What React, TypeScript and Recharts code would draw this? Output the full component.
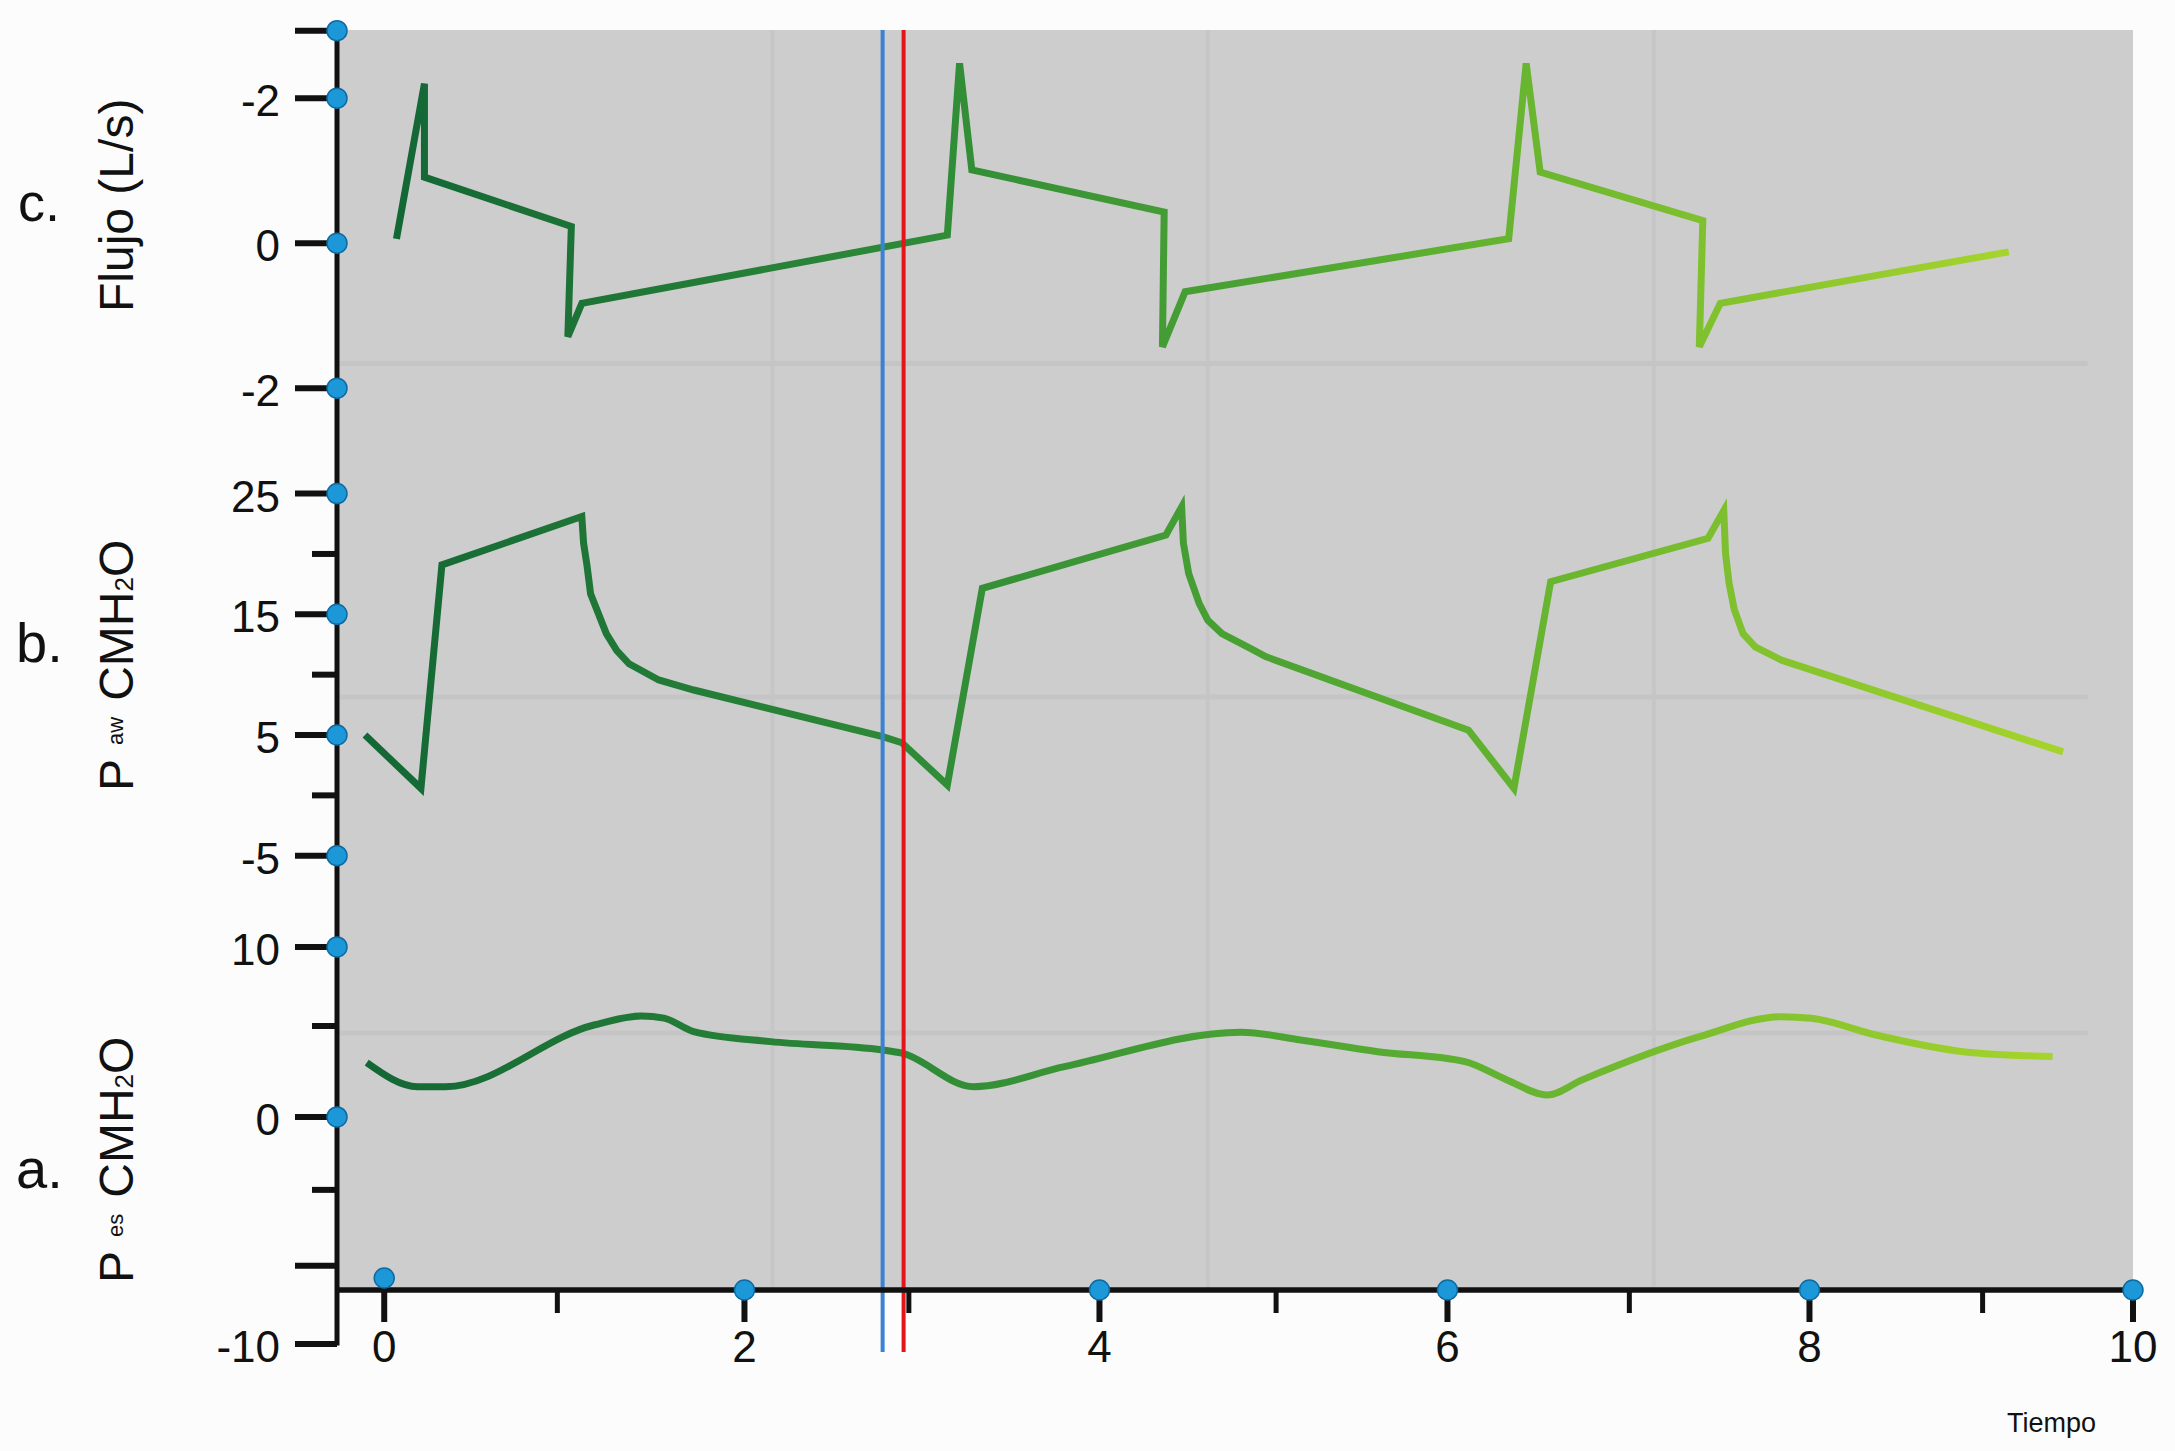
import React from 'react';
import { ComposedChart, Line, XAxis, YAxis, CartesianGrid, ReferenceLine } from 'recharts';

// Flujo (L/s)
const flujoT = [0.07, 0.23, 0.23, 1.07, 1.05, 1.13, 3.22, 3.29, 3.36, 4.46, 4.45, 4.58, 6.43, 6.53, 6.61, 7.54, 7.52, 7.64, 9.29];
const flujoV = [0.06, 2.2, 0.91, 0.23, -1.29, -0.83, 0.11, 2.48, 1.01, 0.43, -1.43, -0.67, 0.06, 2.48, 0.98, 0.31, -1.43, -0.83, -0.12];

// P aw (cmH2O)
const pawT = [-0.11, 0.21, 0.33, 1.13, 1.14, 1.16, 1.18, 1.27, 1.33, 1.4, 1.57, 1.77, 2.85, 2.96, 3.22, 3.42, 4.47, 4.56, 4.57, 4.6, 4.66, 4.71, 4.79, 4.95, 5.04, 6.2, 6.46, 6.67, 7.57, 7.66, 7.67, 7.69, 7.72, 7.77, 7.84, 7.99, 9.6];
const pawV = [5.0, 0.58, 19.1, 23.1, 20.9, 19.0, 16.7, 13.4, 12.0, 10.9, 9.56, 8.73, 4.86, 4.36, 0.86, 17.15, 21.57, 23.9, 20.9, 18.4, 15.9, 14.5, 13.4, 12.2, 11.5, 5.4, 0.58, 17.7, 21.3, 23.6, 20.05, 17.6, 15.4, 13.4, 12.3, 11.2, 3.6];

// P es (cmH2O)
const pesT = [-0.1, 0.19, 0.35, 1.2, 1.47, 1.6, 1.77, 2.21, 2.85, 2.96, 3.37, 3.89, 4.9, 5.24, 5.68, 6.18, 6.42, 6.65, 6.85, 7.52, 7.99, 8.16, 8.53, 9.03, 9.54];
const pesV = [3.19, 1.78, 1.78, 5.41, 5.94, 5.81, 5.02, 4.43, 3.94, 3.75, 1.78, 2.96, 4.98, 4.53, 3.84, 3.25, 2.18, 1.29, 2.18, 4.72, 5.9, 5.81, 4.82, 3.84, 3.55];

// cursors
const cursorBlue = 2.85;
const cursorRed = 2.97;

// ticks where the figure draws them (the original spacing is slightly uneven)
const xTicks = [0, 0.99, 2.06, 3.0, 4.09, 5.1, 6.08, 7.12, 8.15, 9.14, 10];
const xTickLabels = ['0', '', '2', '', '4', '', '6', '', '8', '', '10'];

const flujoTicks = [2.93, 2, 0, -2];
const flujoTickLabels = ['', '-2', '0', '-2'];
const flujoTickKind = ['dot', 'dot', 'dot', 'dot'];

const pawTicks = [25, 20, 15, 10, 5, 0, -5];
const pawTickLabels = ['25', '', '15', '', '5', '', '-5'];
const pawTickKind = ['dot', 'minor', 'dot', 'minor', 'dot', 'minor', 'dot'];

const pesTicks = [10, 5.35, 0, -4.29, -8.76, -13.35];
const pesTickLabels = ['10', '', '0', '', '', '-10'];
const pesTickKind = ['dot', 'minor', 'dot', 'minor', 'major', 'major'];

// faint background grid of the original picture
const gridT = [2.22, 4.71, 7.26];
const gridFlujo = -1.66;
const gridPaw = 8.15;
const gridPes = 4.94;

// axis ranges (each panel shares the same plot height)
const T_MIN = -0.27;
const T_MAX = 10;
const FLUJO_DOMAIN = [-14.44, 2.94];
const PAW_DOMAIN = [-40.98, 63.41];
const PES_DOMAIN = [-10.18, 63.94];
const AXIS_BOTTOM = -13.45;
const CURSOR_BOTTOM = -13.82;
const GRID_END = 9.74;

const toPoints = (ts: number[], vs: number[]) => ts.map((t, i) => ({ t, v: vs[i] }));

const flujoData = toPoints(flujoT, flujoV);
const pawData = toPoints(pawT, pawV);
const pesData = toPoints(pesT, pesV);

const FONT = "'Liberation Sans', Arial, sans-serif";
const INK = '#111111';
const DOT_FILL = '#1c98d9';
const DOT_STROKE = '#0d6aa3';
const AXIS_X = 337; // where the y axis line sits

const makeYTick = (values: number[], labels: string[], kinds: string[]) => (props: any) => {
  const { y, payload } = props;
  const x = AXIS_X;
  const i = values.indexOf(payload.value);
  const kind = kinds[i];
  const len = kind === 'minor' ? 25 : 42;
  return (
    <g>
      <line x1={x - len} x2={x} y1={y} y2={y} stroke={INK} strokeWidth={6} />
      {kind === 'dot' && <circle cx={x} cy={y} r={10} fill={DOT_FILL} stroke={DOT_STROKE} strokeWidth={1.5} />}
      {labels[i] && (
        <text x={x - 57} y={y + 18} textAnchor="end" fontSize={44} fontFamily={FONT} fill={INK}>
          {labels[i]}
        </text>
      )}
    </g>
  );
};

const XTick = (props: any) => {
  const { x, y, payload } = props;
  const i = xTicks.indexOf(payload.value);
  const label = xTickLabels[i];
  if (!label) {
    return <line x1={x} x2={x} y1={y} y2={y + 23} stroke={INK} strokeWidth={5} />;
  }
  const dotY = i === 0 ? y - 12 : y;
  return (
    <g>
      <line x1={x} x2={x} y1={y} y2={y + 32} stroke={INK} strokeWidth={6} />
      <circle cx={x} cy={dotY} r={10} fill={DOT_FILL} stroke={DOT_STROKE} strokeWidth={1.5} />
      <text x={x} y={y + 72} textAnchor="middle" fontSize={44} fontFamily={FONT} fill={INK}>
        {label}
      </text>
    </g>
  );
};

const FlujoTick = makeYTick(flujoTicks, flujoTickLabels, flujoTickKind);
const PawTick = makeYTick(pawTicks, pawTickLabels, pawTickKind);
const PesTick = makeYTick(pesTicks, pesTickLabels, pesTickKind);

const App = () => {
  return (
    <div style={{ position: 'absolute', left: 0, top: 0, width: 2175, height: 1451, background: '#fcfcfc' }}>
      <ComposedChart width={2175} height={1451} margin={{ top: 30, right: 42, bottom: 160, left: 334 }}>
        <defs>
          <linearGradient id="waveGreen" x1="0" y1="0" x2="1" y2="0">
            <stop offset="0%" stopColor="#136735" />
            <stop offset="33%" stopColor="#2f8b37" />
            <stop offset="62%" stopColor="#58ad31" />
            <stop offset="100%" stopColor="#a6d42b" />
          </linearGradient>
        </defs>
        <CartesianGrid fill="#cdcdcd" stroke="none" horizontal={false} vertical={false} />

        {gridT.map((t) => (
          <ReferenceLine key={t} yAxisId="pes" x={t} stroke="#c6c6c6" strokeWidth={4} />
        ))}
        <ReferenceLine yAxisId="flujo" segment={[{ x: T_MIN, y: gridFlujo }, { x: GRID_END, y: gridFlujo }]} stroke="#c5c5c5" strokeWidth={5} />
        <ReferenceLine yAxisId="paw" segment={[{ x: T_MIN, y: gridPaw }, { x: GRID_END, y: gridPaw }]} stroke="#c5c5c5" strokeWidth={5} />
        <ReferenceLine yAxisId="pes" segment={[{ x: T_MIN, y: gridPes }, { x: GRID_END, y: gridPes }]} stroke="#c5c5c5" strokeWidth={5} />

        <Line yAxisId="flujo" data={flujoData} dataKey="v" type="linear" stroke="url(#waveGreen)" strokeWidth={7} dot={false} isAnimationActive={false} />
        <Line yAxisId="paw" data={pawData} dataKey="v" type="linear" stroke="url(#waveGreen)" strokeWidth={7} dot={false} isAnimationActive={false} />
        <Line yAxisId="pes" data={pesData} dataKey="v" type="monotone" stroke="url(#waveGreen)" strokeWidth={7} dot={false} isAnimationActive={false} />

        <ReferenceLine
          yAxisId="pes"
          ifOverflow="visible"
          segment={[{ x: T_MIN, y: PES_DOMAIN[1] }, { x: T_MIN, y: AXIS_BOTTOM }]}
          stroke={INK}
          strokeWidth={5}
        />
        <ReferenceLine
          yAxisId="pes"
          ifOverflow="visible"
          segment={[{ x: cursorBlue, y: PES_DOMAIN[1] }, { x: cursorBlue, y: CURSOR_BOTTOM }]}
          stroke="#3b82d4"
          strokeWidth={4}
        />
        <ReferenceLine
          yAxisId="pes"
          ifOverflow="visible"
          segment={[{ x: cursorRed, y: PES_DOMAIN[1] }, { x: cursorRed, y: CURSOR_BOTTOM }]}
          stroke="#e5141b"
          strokeWidth={4}
        />

        <XAxis
          type="number"
          dataKey="t"
          domain={[T_MIN, T_MAX]}
          ticks={xTicks}
          interval={0}
          height={1}
          tickSize={0}
          tickMargin={0}
          tickLine={false}
          axisLine={{ stroke: INK, strokeWidth: 5.5 }}
          tick={XTick}
          allowDataOverflow
        />
        <YAxis
          yAxisId="pes"
          type="number"
          domain={PES_DOMAIN}
          ticks={pesTicks}
          interval={0}
          width={1}
          tickSize={0}
          tickMargin={0}
          tickLine={false}
          axisLine={false}
          tick={PesTick}
          allowDataOverflow
        />
        <YAxis
          yAxisId="paw"
          type="number"
          domain={PAW_DOMAIN}
          ticks={pawTicks}
          interval={0}
          width={1}
          tickSize={0}
          tickMargin={0}
          tickLine={false}
          axisLine={false}
          tick={PawTick}
          allowDataOverflow
        />
        <YAxis
          yAxisId="flujo"
          type="number"
          domain={FLUJO_DOMAIN}
          ticks={flujoTicks}
          interval={0}
          width={1}
          tickSize={0}
          tickMargin={0}
          tickLine={false}
          axisLine={false}
          tick={FlujoTick}
          allowDataOverflow
        />
      </ComposedChart>

      <svg width={2175} height={1451} style={{ position: 'absolute', left: 0, top: 0, pointerEvents: 'none' }} fontFamily={FONT} fill={INK}>
        <text x={18} y={221} fontSize={54}>c.</text>
        <text transform="rotate(-90)" x={-312} y={133} fontSize={48}>Flujo (L/s)</text>

        <text x={16} y={662} fontSize={56}>b.</text>
        <text transform="rotate(-90)" x={-791} y={133} fontSize={48}>
          P
          <tspan dx={14} dy={-10} fontSize={22}>aw</tspan>
          <tspan dx={16} dy={10}>CMH</tspan>
          <tspan fontSize={26}>2</tspan>
          <tspan>O</tspan>
        </text>

        <text x={16} y={1188} fontSize={56}>a.</text>
        <text transform="rotate(-90)" x={-1283} y={133} fontSize={48}>
          P
          <tspan dx={14} dy={-10} fontSize={22}>es</tspan>
          <tspan dx={16} dy={10}>CMH</tspan>
          <tspan fontSize={26}>2</tspan>
          <tspan>O</tspan>
        </text>

        <text x={2007} y={1432} fontSize={27}>Tiempo</text>
      </svg>
    </div>
  );
};

export default App;
